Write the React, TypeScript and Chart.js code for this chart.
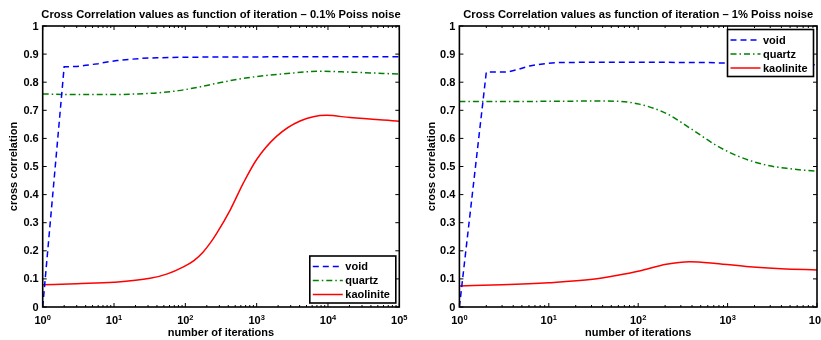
import React, { useEffect, useRef } from "react";
import { Chart, registerables } from "chart.js";

Chart.register(...registerables);

const FONT = '"Liberation Sans", Arial, Helvetica, sans-serif';

// ---------- data: left panel (0.1% Poisson noise) ----------
const leftVoidX = [1, 2, 3, 4, 6, 8, 11, 16, 25, 40, 100, 1000, 10000, 100000];
const leftVoidY = [0, 0.855, 0.856, 0.86, 0.866, 0.872, 0.877, 0.881, 0.885, 0.887, 0.889, 0.89, 0.891, 0.891];
const leftQuartzX = [1, 3, 10, 20, 40, 80, 150, 300, 600, 1000, 3000, 8000, 20000, 100000];
const leftQuartzY = [0.758, 0.756, 0.756, 0.758, 0.762, 0.77, 0.782, 0.798, 0.812, 0.82, 0.832, 0.839, 0.836, 0.829];
const leftKaoX = [1, 3, 10, 32, 56, 94, 132, 178, 224, 275, 425, 647, 1000, 1915, 4060, 9600, 20400, 100000];
const leftKaoY = [0.079, 0.083, 0.088, 0.102, 0.118, 0.143, 0.165, 0.196, 0.228, 0.262, 0.345, 0.44, 0.525, 0.608, 0.662, 0.682, 0.674, 0.661];

// ---------- data: right panel (1% Poisson noise) ----------
const rightVoidX = [1, 2, 3.4, 4.5, 6.1, 9, 13, 30, 100, 600, 1500, 4000, 10000];
const rightVoidY = [0, 0.836, 0.836, 0.845, 0.858, 0.866, 0.87, 0.871, 0.871, 0.87, 0.866, 0.863, 0.862];
const rightQuartzX = [1, 3, 10, 37, 60, 103, 206, 408, 740, 1350, 2700, 5000, 10000];
const rightQuartzY = [0.731, 0.731, 0.732, 0.733, 0.732, 0.722, 0.689, 0.63, 0.576, 0.535, 0.505, 0.492, 0.483];
const rightKaoX = [1, 3, 10, 31, 57, 103, 206, 375, 740, 1750, 4000, 10000];
const rightKaoY = [0.075, 0.079, 0.0865, 0.0986, 0.112, 0.128, 0.152, 0.161, 0.155, 0.143, 0.136, 0.132];

// ---------- ticks / labels ----------
const yTicks = [0, 0.1, 0.2, 0.3, 0.4, 0.5, 0.6, 0.7, 0.8, 0.9, 1];
const yTickLabels = ["0", "0.1", "0.2", "0.3", "0.4", "0.5", "0.6", "0.7", "0.8", "0.9", "1"];
const leftXTicks = [1, 10, 100, 1000, 10000, 100000];
const leftXExponents = ["0", "1", "2", "3", "4", "5"];
const rightXTicks = [1, 10, 100, 1000, 10000];
const rightXExponents = ["0", "1", "2", "3", "4"];
const seriesNames = ["void", "quartz", "kaolinite"];
const seriesColors = ["#0000ff", "#008000", "#ff0000"];
const seriesDashes = [[6, 4], [6, 3, 1.5, 3], []];
const leftTitle = "Cross Correlation values as function of iteration – 0.1% Poiss noise";
const rightTitle = "Cross Correlation values as function of iteration – 1% Poiss noise";
const xTitle = "number of iterations";
const yTitle = "cross correlation";

type Panel = {
  title: string;
  xs: number[][];
  ys: number[][];
  xMax: number;
  xTicks: number[];
  xExps: string[];
  padding: { left: number; right: number; top: number; bottom: number };
  legendPos: "br" | "tr";
  yTitleOffset: number;
};

function pts(x: number[], y: number[]) {
  return x.map((v, i) => ({ x: v, y: y[i] }));
}

function makePlugin(p: Panel) {
  return {
    id: "matlabAxes",
    afterDraw(chart: any) {
      const ctx: CanvasRenderingContext2D = chart.ctx;
      const { left, right, top, bottom } = chart.chartArea;
      const xs = chart.scales.x;
      const ys = chart.scales.y;
      ctx.save();
      ctx.setLineDash([]);
      ctx.strokeStyle = "#000";
      // ticks
      ctx.lineWidth = 1;
      ctx.beginPath();
      yTicks.forEach((v) => {
        const py = ys.getPixelForValue(v);
        ctx.moveTo(left, py);
        ctx.lineTo(left + 4, py);
        ctx.moveTo(right, py);
        ctx.lineTo(right - 4, py);
      });
      p.xTicks.forEach((v) => {
        const px = xs.getPixelForValue(v);
        ctx.moveTo(px, bottom);
        ctx.lineTo(px, bottom - 4);
        ctx.moveTo(px, top);
        ctx.lineTo(px, top + 4);
        for (let k = 2; k <= 9; k++) {
          const mv = v * k;
          if (mv > p.xMax) break;
          const mx = xs.getPixelForValue(mv);
          ctx.moveTo(mx, bottom);
          ctx.lineTo(mx, bottom - 2);
          ctx.moveTo(mx, top);
          ctx.lineTo(mx, top + 2);
        }
      });
      ctx.stroke();
      // box
      ctx.lineWidth = 1.6;
      ctx.strokeRect(left, top, right - left, bottom - top);

      ctx.fillStyle = "#000";
      // y tick labels
      ctx.font = `bold 11px ${FONT}`;
      ctx.textAlign = "right";
      ctx.textBaseline = "middle";
      yTicks.forEach((v, i) => {
        ctx.fillText(yTickLabels[i], left - 4, ys.getPixelForValue(v) + 0.5);
      });
      // x tick labels with superscript
      ctx.textBaseline = "alphabetic";
      ctx.textAlign = "left";
      p.xTicks.forEach((v, i) => {
        const px = xs.getPixelForValue(v);
        ctx.font = `bold 11px ${FONT}`;
        const w1 = ctx.measureText("10").width;
        ctx.font = `bold 7.5px ${FONT}`;
        const w2 = ctx.measureText(p.xExps[i]).width;
        const x0 = px - (w1 + w2) / 2;
        ctx.font = `bold 11px ${FONT}`;
        ctx.fillText("10", x0, bottom + 16.5);
        ctx.font = `bold 7.5px ${FONT}`;
        ctx.fillText(p.xExps[i], x0 + w1, bottom + 12.5);
      });
      // axis titles
      ctx.font = `bold 11px ${FONT}`;
      ctx.textAlign = "center";
      ctx.fillText(xTitle, (left + right) / 2, bottom + 28.5);
      ctx.save();
      ctx.translate(left - p.yTitleOffset, (top + bottom) / 2);
      ctx.rotate(-Math.PI / 2);
      ctx.textBaseline = "middle";
      ctx.fillText(yTitle, 0, 0);
      ctx.restore();
      // title
      ctx.font = `bold 11.2px ${FONT}`;
      ctx.textAlign = "center";
      ctx.textBaseline = "alphabetic";
      ctx.fillText(p.title, (left + right) / 2, 17.5);

      // legend
      const lw = 86;
      const lh = 47;
      const lx = right - 3.5 - lw;
      const ly = p.legendPos === "br" ? bottom - 4 - lh : top + 3.5;
      ctx.fillStyle = "#fff";
      ctx.fillRect(lx, ly, lw, lh);
      ctx.lineWidth = 1.6;
      ctx.strokeStyle = "#000";
      ctx.strokeRect(lx, ly, lw, lh);
      const rows = [10.5, 24.5, 38.5];
      seriesNames.forEach((name, i) => {
        const ry = ly + rows[i];
        ctx.strokeStyle = seriesColors[i];
        ctx.lineWidth = 1.5;
        ctx.setLineDash(seriesDashes[i]);
        ctx.beginPath();
        ctx.moveTo(lx + 3, ry);
        ctx.lineTo(lx + 33, ry);
        ctx.stroke();
        ctx.setLineDash([]);
        ctx.fillStyle = "#000";
        ctx.font = `bold 11px ${FONT}`;
        ctx.textAlign = "left";
        ctx.textBaseline = "middle";
        ctx.fillText(name, lx + 35.5, ry + 0.5);
      });
      ctx.restore();
    },
  };
}

function PanelChart({ panel, width, height, left }: { panel: Panel; width: number; height: number; left: number }) {
  const ref = useRef<HTMLCanvasElement | null>(null);
  useEffect(() => {
    if (!ref.current) return;
    const datasets = seriesNames.map((name, i) => ({
      label: name,
      data: pts(panel.xs[i], panel.ys[i]),
      borderColor: seriesColors[i],
      backgroundColor: seriesColors[i],
      borderWidth: 1.5,
      borderDash: seriesDashes[i],
      pointRadius: 0,
      fill: false,
      tension: 0,
      cubicInterpolationMode: i === 0 ? "default" : "monotone",
    }));
    const chart = new Chart(ref.current, {
      type: "line",
      data: { datasets } as any,
      options: {
        animation: false,
        responsive: false,
        devicePixelRatio: 1,
        layout: { padding: panel.padding },
        plugins: { legend: { display: false }, title: { display: false }, tooltip: { enabled: false } },
        scales: {
          x: { type: "logarithmic", min: 1, max: panel.xMax, display: false },
          y: { type: "linear", min: 0, max: 1, display: false },
        },
      } as any,
      plugins: [makePlugin(panel)],
    });
    return () => chart.destroy();
  }, [panel]);
  return (
    <canvas
      ref={ref}
      width={width}
      height={height}
      style={{ position: "absolute", left, top: 0, width, height }}
    />
  );
}

const leftPanel: Panel = {
  title: leftTitle,
  xs: [leftVoidX, leftQuartzX, leftKaoX],
  ys: [leftVoidY, leftQuartzY, leftKaoY],
  xMax: 100000,
  xTicks: leftXTicks,
  xExps: leftXExponents,
  padding: { left: 42.7, right: 10.7, top: 26, bottom: 33 },
  legendPos: "br",
  yTitleOffset: 28.5,
};

const rightPanel: Panel = {
  title: rightTitle,
  xs: [rightVoidX, rightQuartzX, rightKaoX],
  ys: [rightVoidY, rightQuartzY, rightKaoY],
  xMax: 10000,
  xTicks: rightXTicks,
  xExps: rightXExponents,
  padding: { left: 49.4, right: 4, top: 26, bottom: 33 },
  legendPos: "tr",
  yTitleOffset: 27,
};

export default function App() {
  return (
    <div style={{ position: "absolute", left: 0, top: 0, width: 821, height: 340, background: "#fff", overflow: "hidden" }}>
      <PanelChart panel={leftPanel} width={410} height={340} left={0} />
      <PanelChart panel={rightPanel} width={411} height={340} left={410} />
    </div>
  );
}
